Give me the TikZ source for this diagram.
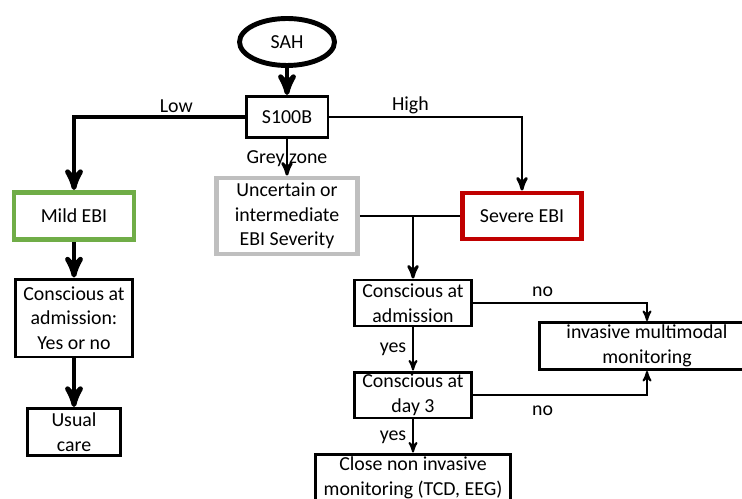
\documentclass[tikz,border=0pt]{standalone}
\usepackage{fontspec}
\setmainfont{Carlito}
\usepackage{xcolor}
\usetikzlibrary{arrows, positioning, calc, shapes.geometric}
\definecolor{mildgreen}{HTML}{70AD47}
\definecolor{severered}{HTML}{C00000}
\definecolor{greyzone}{HTML}{BFBFBF}

\begin{document}
\begin{tikzpicture}[x=0.02cm,y=-0.02cm,>=stealth',
			every node/.style={font=\fontsize{11.3}{14}\selectfont},
			box node/.style={rectangle,draw,line width=1.7pt,align=center,inner sep=0pt},
			bold line/.style={line width=2.8pt},
			mid line/.style={line width=1.6pt},
			thin line/.style={line width=1.1pt}]
			
			\useasboundingbox (0,0) rectangle (742,499);
			
			\node[ellipse,draw,line width=2.8pt,minimum width=1.9cm,minimum height=0.94cm,inner sep=0pt] (sah) at (287,42) {SAH};
			\node[box node,minimum width=1.64cm,minimum height=0.82cm] (s100b) at (287,117) {S100B};
			\node[box node,draw=mildgreen,line width=2.8pt,minimum width=2.4cm,minimum height=0.94cm] (mild) at (74,216) {Mild EBI};
			\node[box node,draw=greyzone,line width=2.8pt,minimum width=2.82cm,minimum height=1.52cm] (uncertain) at (287,216) {Uncertain or\\intermediate\\EBI Severity};
			\node[box node,draw=severered,line width=2.8pt,minimum width=2.38cm,minimum height=0.92cm] (severe) at (522,216) {Severe EBI};
			\node[box node,minimum width=2.34cm,minimum height=1.56cm] (consc) at (74,318) {Conscious at\\admission:\\Yes or no};
			\node[box node,minimum width=1.86cm,minimum height=0.94cm] (usual) at (74,432) {Usual\\care};
			\node[box node,minimum width=2.34cm,minimum height=0.92cm] (admission) at (413,303) {Conscious at\\admission};
			\node[box node,minimum width=2.34cm,minimum height=0.92cm] (day3) at (413,395) {Conscious at\\day 3};
			\node[box node,minimum width=4.3cm,minimum height=0.94cm] (invasive) at (647,346) {invasive multimodal\\monitoring};
			\node[box node,minimum width=3.9cm,minimum height=0.96cm] (close) at (413,478) {Close non invasive\\monitoring (TCD, EEG)};
			
			\draw[->,bold line] (sah) -- (s100b);
			\draw[->,bold line] (s100b) -| node[pos=0.2,above,inner sep=1pt] {Low} (mild);
			\draw[->,mid line] (s100b) -| node[pos=0.21,above,inner sep=1pt] {High} (severe);
			\draw[->,mid line] (s100b) -- node[yshift=-1pt] {Grey zone} (uncertain);
			\draw[mid line] (uncertain) -- (severe);
			\draw[->,mid line] (uncertain.east -| admission.north) -- (admission);
			\draw[->,bold line] (mild) -- (consc);
			\draw[->,bold line] (consc) -- (usual);
			\draw[->,thin line] (admission) -| node[pos=0.2,above] {no} (invasive);
			\draw[->,thin line] (admission) -- node[left] {yes} (day3);
			\draw[->,thin line] (day3) -| node[pos=0.2,below=2.3pt] {no} (invasive);
			\draw[->,thin line] (day3) -- node[left,yshift=-1pt] {yes} (close);
		\end{tikzpicture}
\end{document}
